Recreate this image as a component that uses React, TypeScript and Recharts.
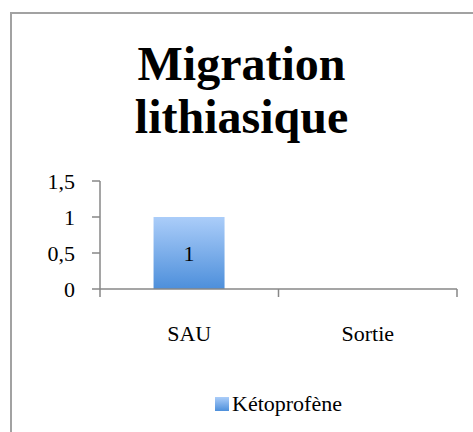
import { Bar, BarChart, LabelList, Legend, XAxis, YAxis } from "recharts";

const categories = ["SAU", "Sortie"];
const ketoprofene = [1, 0];
const yTicks = [0, 0.5, 1, 1.5];
const seriesName = "Kétoprofène";
const title = ["Migration", "lithiasique"];

const data = categories.map((cat, i) => ({ cat, pos: i + 0.5, value: ketoprofene[i] }));

const FONT = "'Liberation Serif', 'Times New Roman', serif";
const AXIS = "#878787";

const LegendBox = () => (
  <div style={{ display: "flex", justifyContent: "center", alignItems: "center", fontFamily: FONT, fontSize: 22, color: "#000" }}>
    <svg width={14} height={14} style={{ marginRight: 3 }}>
      <rect x={0} y={0} width={14} height={14} fill="url(#barGrad)" />
    </svg>
    <span>{seriesName}</span>
  </div>
);

const App = () => {
  return (
    <div style={{ position: "fixed", left: 0, top: 0, width: 473, height: 432, background: "#fff", overflow: "hidden" }}>
      {/* frame: only top and left edges are visible in the crop */}
      <div style={{ position: "absolute", left: 10, top: 12, width: 2, height: 420, background: "#a2a2a2" }} />
      <div style={{ position: "absolute", left: 10, top: 12, width: 463, height: 2, background: "#a2a2a2" }} />
      <div
        style={{
          position: "absolute",
          left: 10,
          top: 37,
          width: 463,
          textAlign: "center",
          fontFamily: FONT,
          fontWeight: "bold",
          fontSize: 48,
          lineHeight: "53px",
        }}
      >
        {title.map((t) => (
          <div key={t}>{t}</div>
        ))}
      </div>
      <BarChart
        width={473}
        height={432}
        data={data}
        margin={{ top: 181, right: 16, left: 10, bottom: 12 }}
        barCategoryGap="30%"
        style={{ position: "absolute", left: 0, top: 0 }}
      >
        <defs>
          <linearGradient id="barGrad" x1="0" y1="0" x2="0" y2="1">
            <stop offset="0%" stopColor="#abcdf9" />
            <stop offset="100%" stopColor="#4d8fdb" />
          </linearGradient>
        </defs>
        <XAxis
          xAxisId={0}
          type="number"
          dataKey="pos"
          domain={[0, categories.length]}
          ticks={[0, 1, 2]}
          tickFormatter={() => ""}
          tickSize={8}
          height={1}
          stroke={AXIS}
          strokeWidth={1.5}
        />
        <XAxis
          xAxisId="cat"
          dataKey="cat"
          axisLine={false}
          tickLine={false}
          tickSize={0}
          tickMargin={35}
          height={101}
          tick={{ fill: "#000", fontFamily: FONT, fontSize: 22 }}
        />
        <YAxis
          domain={[0, 1.5]}
          ticks={yTicks}
          width={90}
          tickSize={8}
          tickMargin={17}
          stroke={AXIS}
          strokeWidth={1.5}
          tick={{ fill: "#000", fontFamily: FONT, fontSize: 22 }}
          tickFormatter={(v: number) => String(v).replace(".", ",")}
        />
        <Legend
          verticalAlign="bottom"
          content={<LegendBox />}
          wrapperStyle={{ height: 29, left: 100, width: 357 }}
        />
        <Bar xAxisId="cat" dataKey="value" name={seriesName} fill="url(#barGrad)" isAnimationActive={false}>
          <LabelList
            dataKey="value"
            position="center"
            formatter={(v: number) => (v ? String(v) : "")}
            style={{ fill: "#000", fontFamily: FONT, fontSize: 22 }}
          />
        </Bar>
      </BarChart>
    </div>
  );
};

export default App;
